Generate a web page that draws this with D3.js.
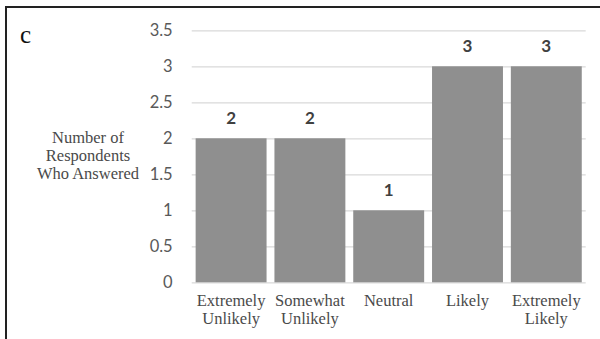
<!DOCTYPE html>
<html>
<head>
<meta charset="utf-8">
<script src="https://cdn.jsdelivr.net/npm/d3@7"></script>
<style>
  html, body { margin: 0; padding: 0; background: #fff; }
  svg { display: block; }
</style>
</head>
<body>
<svg id="chart" width="600" height="339"></svg>
<script>
// Survey responses: number of respondents per answer
const categories = [
  ["Extremely", "Unlikely"],
  ["Somewhat", "Unlikely"],
  ["Neutral"],
  ["Likely"],
  ["Extremely", "Likely"]
];
const counts = [2, 2, 1, 3, 3];
const yTicks = [0, 0.5, 1, 1.5, 2, 2.5, 3, 3.5];
const yTitle = ["Number of", "Respondents", "Who Answered"];
const panelLabel = "c";

const svg = d3.select("#chart");
const W = 600, H = 339;

// panel frame (left and top edges)
svg.append("line").attr("x1", 6).attr("x2", 6).attr("y1", 7).attr("y2", H)
  .attr("stroke", "#222").attr("stroke-width", 2);
svg.append("line").attr("x1", 5).attr("x2", W).attr("y1", 7).attr("y2", 7)
  .attr("stroke", "#222").attr("stroke-width", 2);

const plot = { left: 191.7, right: 585.7, top: 30.3, bottom: 282.3 };

const x = d3.scaleBand()
  .domain(d3.range(categories.length))
  .range([plot.left, plot.right])
  .paddingInner(0.1)
  .paddingOuter(0.05);

const y = d3.scaleLinear()
  .domain([0, 3.5])
  .range([plot.bottom, plot.top]);

const sans = "Lato, 'Open Sans', sans-serif";
const serif = "'Liberation Serif', 'Times New Roman', serif";

// gridlines + tick labels
const yAxis = d3.axisLeft(y)
  .tickValues(yTicks)
  .tickFormat(d => String(d))
  .tickSize(-(plot.right - plot.left))
  .tickPadding(19);

const gy = svg.append("g")
  .attr("transform", `translate(${plot.left},0)`)
  .call(yAxis);
gy.select(".domain").remove();
gy.selectAll(".tick line").attr("stroke", "#d9d9d9").attr("stroke-width", 1.3);
gy.selectAll(".tick text")
  .attr("fill", "#595959")
  .style("font-family", sans)
  .style("font-size", "16.5px");

// bars
svg.append("g").selectAll("rect")
  .data(counts)
  .join("rect")
  .attr("x", (d, i) => x(i))
  .attr("width", x.bandwidth())
  .attr("y", d => y(d))
  .attr("height", d => y(0) - y(d))
  .attr("fill", "#8f8f8f");

// value labels
svg.append("g").selectAll("text")
  .data(counts)
  .join("text")
  .attr("x", (d, i) => x(i) + x.bandwidth() / 2)
  .attr("y", d => y(d) - 14)
  .attr("text-anchor", "middle")
  .attr("fill", "#404040")
  .style("font-family", sans)
  .style("font-weight", "bold")
  .style("font-size", "17px")
  .text(d => d);

// category labels
const catG = svg.append("g").selectAll("text")
  .data(categories)
  .join("text")
  .attr("x", (d, i) => x(i) + x.bandwidth() / 2)
  .attr("y", 306)
  .attr("text-anchor", "middle")
  .attr("fill", "#4a4a4a")
  .style("font-family", serif)
  .style("font-size", "16.5px");
catG.selectAll("tspan")
  .data(d => d)
  .join("tspan")
  .attr("x", function () { return d3.select(this.parentNode).attr("x"); })
  .attr("dy", (d, i) => i === 0 ? 0 : 18)
  .text(d => d);

// y-axis title
svg.append("text")
  .attr("x", 88)
  .attr("y", 143)
  .attr("text-anchor", "middle")
  .attr("fill", "#4a4a4a")
  .style("font-family", serif)
  .style("font-size", "16.5px")
  .selectAll("tspan")
  .data(yTitle)
  .join("tspan")
  .attr("x", 88)
  .attr("dy", (d, i) => i === 0 ? 0 : 18)
  .text(d => d);

// panel letter
svg.append("text")
  .attr("x", 20)
  .attr("y", 43)
  .attr("fill", "#111")
  .style("font-family", serif)
  .style("font-size", "25px")
  .text(panelLabel);
</script>
</body>
</html>
